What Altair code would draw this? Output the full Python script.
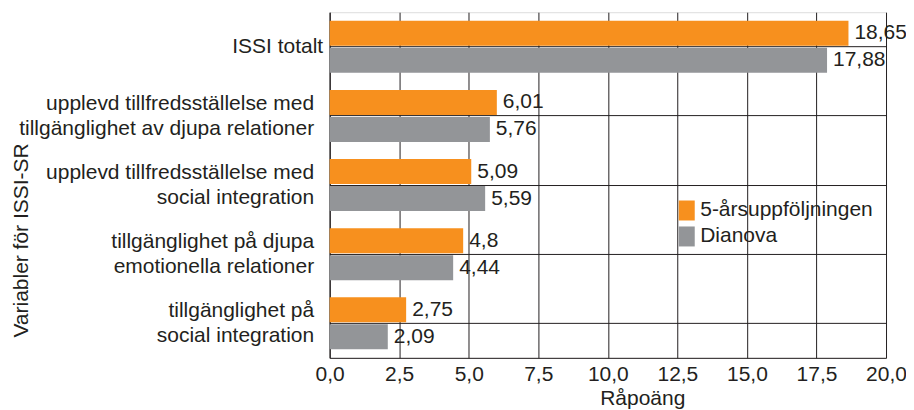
import altair as alt
import pandas as pd

categories = [
    "ISSI totalt",
    "upplevd tillfredsställelse med|tillgänglighet av djupa relationer",
    "upplevd tillfredsställelse med|social integration",
    "tillgänglighet på djupa|emotionella relationer",
    "tillgänglighet på|social integration",
]
series = ["5-årsuppföljningen", "Dianova"]
values_5ar = [18.65, 6.01, 5.09, 4.8, 2.75]
values_dianova = [17.88, 5.76, 5.59, 4.44, 2.09]
labels_5ar = ["18,65", "6,01", "5,09", "4,8", "2,75"]
labels_dianova = ["17,88", "5,76", "5,59", "4,44", "2,09"]
x_ticks = [0, 2.5, 5, 7.5, 10, 12.5, 15, 17.5, 20]
colors = ["#F7901E", "#939598"]

rows = []
for c, v, l in zip(categories, values_5ar, labels_5ar):
    rows.append({"kategori": c, "serie": series[0], "varde": v, "etikett": l})
for c, v, l in zip(categories, values_dianova, labels_dianova):
    rows.append({"kategori": c, "serie": series[1], "varde": v, "etikett": l})
df = pd.DataFrame(rows)

FONT = "Liberation Sans"
INK = "#231F20"
FS = 21
MULTI = "indexof(datum.value, '|') >= 0"

base = alt.Chart(df).encode(
    y=alt.Y(
        "kategori:N",
        sort=categories,
        scale=alt.Scale(paddingInner=0, paddingOuter=0),
        axis=alt.Axis(
            title="Variabler för ISSI-SR",
            titleFontSize=FS,
            titleFont=FONT,
            titleFontWeight="normal",
            titleColor=INK,
            titleAngle=270,
            titleAlign="center",
            titleBaseline="alphabetic",
            titleX=-302,
            titleY=228,
            labelExpr="split(datum.label, '|')",
            labelFontSize=FS,
            labelFont=FONT,
            labelColor=INK,
            labelLineHeight=25,
            labelPadding={"condition": {"test": MULTI, "value": 16}, "value": 7},
            labelLimit=400,
            labelAlign="right",
            labelBaseline={"condition": {"test": MULTI, "value": "line-bottom"}, "value": "middle"},
            grid=True,
            gridColor=INK,
            gridWidth=1,
            gridOpacity=1,
            bandPosition=0.5,
            ticks=False,
            domain=True,
            domainColor=INK,
            domainWidth=1,
        ),
    ),
    yOffset=alt.YOffset(
        "serie:N",
        sort=series,
        scale=alt.Scale(paddingInner=0.074, paddingOuter=0.318),
    ),
    x=alt.X(
        "varde:Q",
        scale=alt.Scale(domain=[0, 20], nice=False, zero=True),
        axis=alt.Axis(
            title="Råpoäng",
            titleFontSize=FS,
            titleFont=FONT,
            titleFontWeight="normal",
            titleColor=INK,
            titleBaseline="alphabetic",
            titleX=313,
            titleY=47,
            values=x_ticks,
            format=".1f",
            labelExpr="replace(datum.label, '.', ',')",
            labelFontSize=FS,
            labelFont=FONT,
            labelColor=INK,
            labelPadding=6,
            labelFlush=False,
            ticks=False,
            grid=True,
            gridColor=INK,
            gridWidth=1,
            gridOpacity=1,
            domain=True,
            domainColor=INK,
            domainWidth=1,
        ),
    ),
)

bars = base.mark_bar(strokeWidth=0).encode(
    color=alt.Color(
        "serie:N",
        sort=series,
        scale=alt.Scale(domain=series, range=colors),
        legend=alt.Legend(
            title=None,
            orient="none",
            legendX=347,
            legendY=188,
            symbolType="M-0.8,-1H0.8V1H-0.8Z",
            symbolSize=400,
            symbolStrokeWidth=0,
            labelFontSize=FS,
            labelFont=FONT,
            labelColor=INK,
            labelLimit=400,
            rowPadding=4,
            labelOffset=3,
            padding=0,
        ),
    )
)

text = base.mark_text(
    align="left", baseline="middle", dx=6, fontSize=FS, font=FONT, color=INK
).encode(text="etikett:N")

chart = (
    alt.layer(bars, text)
    .properties(
        width=557,
        height=346,
        autosize=alt.AutoSizeParams(type="none"),
        padding={"left": 322, "top": 4, "right": 20, "bottom": 52},
    )
    .configure_view(stroke=None)
    .configure(background="white")
)

chart.save("out.html", embed_options={"renderer": "svg", "actions": False})
